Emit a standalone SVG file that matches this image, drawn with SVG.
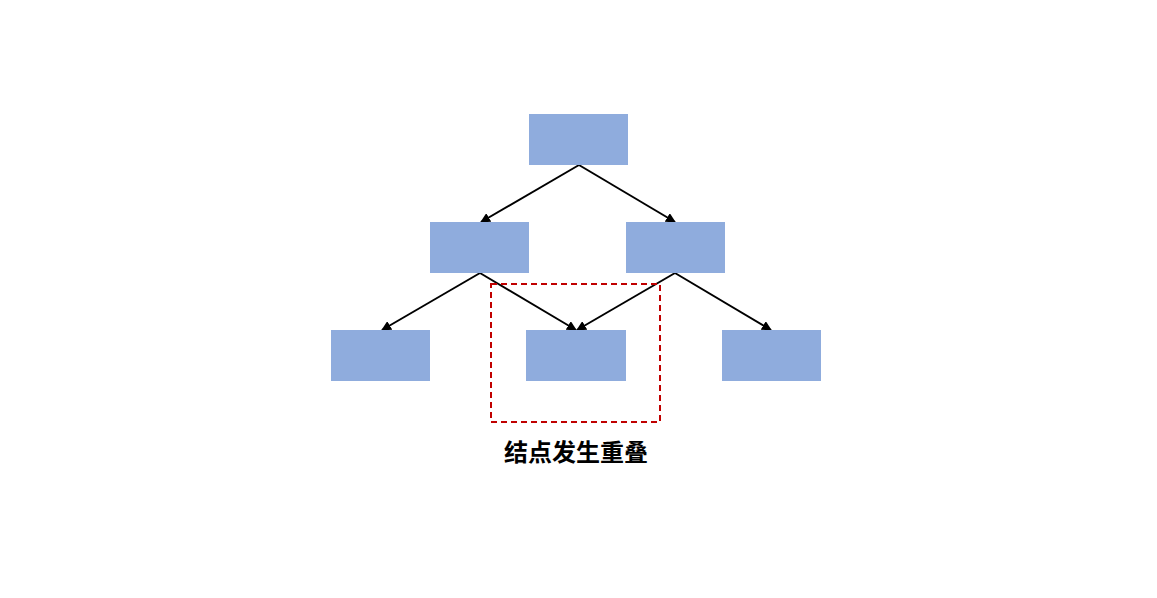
<svg xmlns="http://www.w3.org/2000/svg" width="1157" height="598" viewBox="0 0 1157 598">
<style>
.node{fill:#8FACDD}
.edge{stroke:#000;stroke-width:2;fill:none;marker-end:url(#ah)}
.dash{fill:none;stroke:#C00000;stroke-width:2;stroke-dasharray:6 4}
.lbl{font-family:"Noto Sans CJK SC","Noto Sans",sans-serif;font-size:24px;font-weight:bold;fill:#000}
</style>
<defs>
<marker id="ah" viewBox="0 0 10 10" refX="9" refY="5" markerWidth="5" markerHeight="5" orient="auto" markerUnits="strokeWidth">
<path d="M0,0 L10,5 L0,10 z" fill="#000"/>
</marker>
</defs>
<rect width="1157" height="598" fill="#fff"/>
<g id="connectors">
<line class="edge" x1="579" y1="165" x2="481" y2="222"/>
<line class="edge" x1="579" y1="165" x2="675" y2="222"/>
<line class="edge" x1="480" y1="273" x2="382" y2="330"/>
<line class="edge" x1="480" y1="273" x2="576" y2="330"/>
<line class="edge" x1="675" y1="273" x2="577" y2="330"/>
<line class="edge" x1="675" y1="273" x2="771" y2="330"/>
</g>
<g id="n0"><rect class="node" x="529" y="114" width="99" height="51"/></g>
<g id="n1"><rect class="node" x="430" y="222" width="99" height="51"/></g>
<g id="n2"><rect class="node" x="626" y="222" width="99" height="51"/></g>
<g id="n3"><rect class="node" x="331" y="330" width="99" height="51"/></g>
<g id="n4"><rect class="node" x="526" y="330" width="100" height="51"/></g>
<g id="n5"><rect class="node" x="722" y="330" width="99" height="51"/></g>
<g id="overlap">
<rect class="dash" x="491" y="284" width="169" height="138"/>
<text class="lbl" x="576" y="461" text-anchor="middle">结点发生重叠</text>
</g>
</svg>
